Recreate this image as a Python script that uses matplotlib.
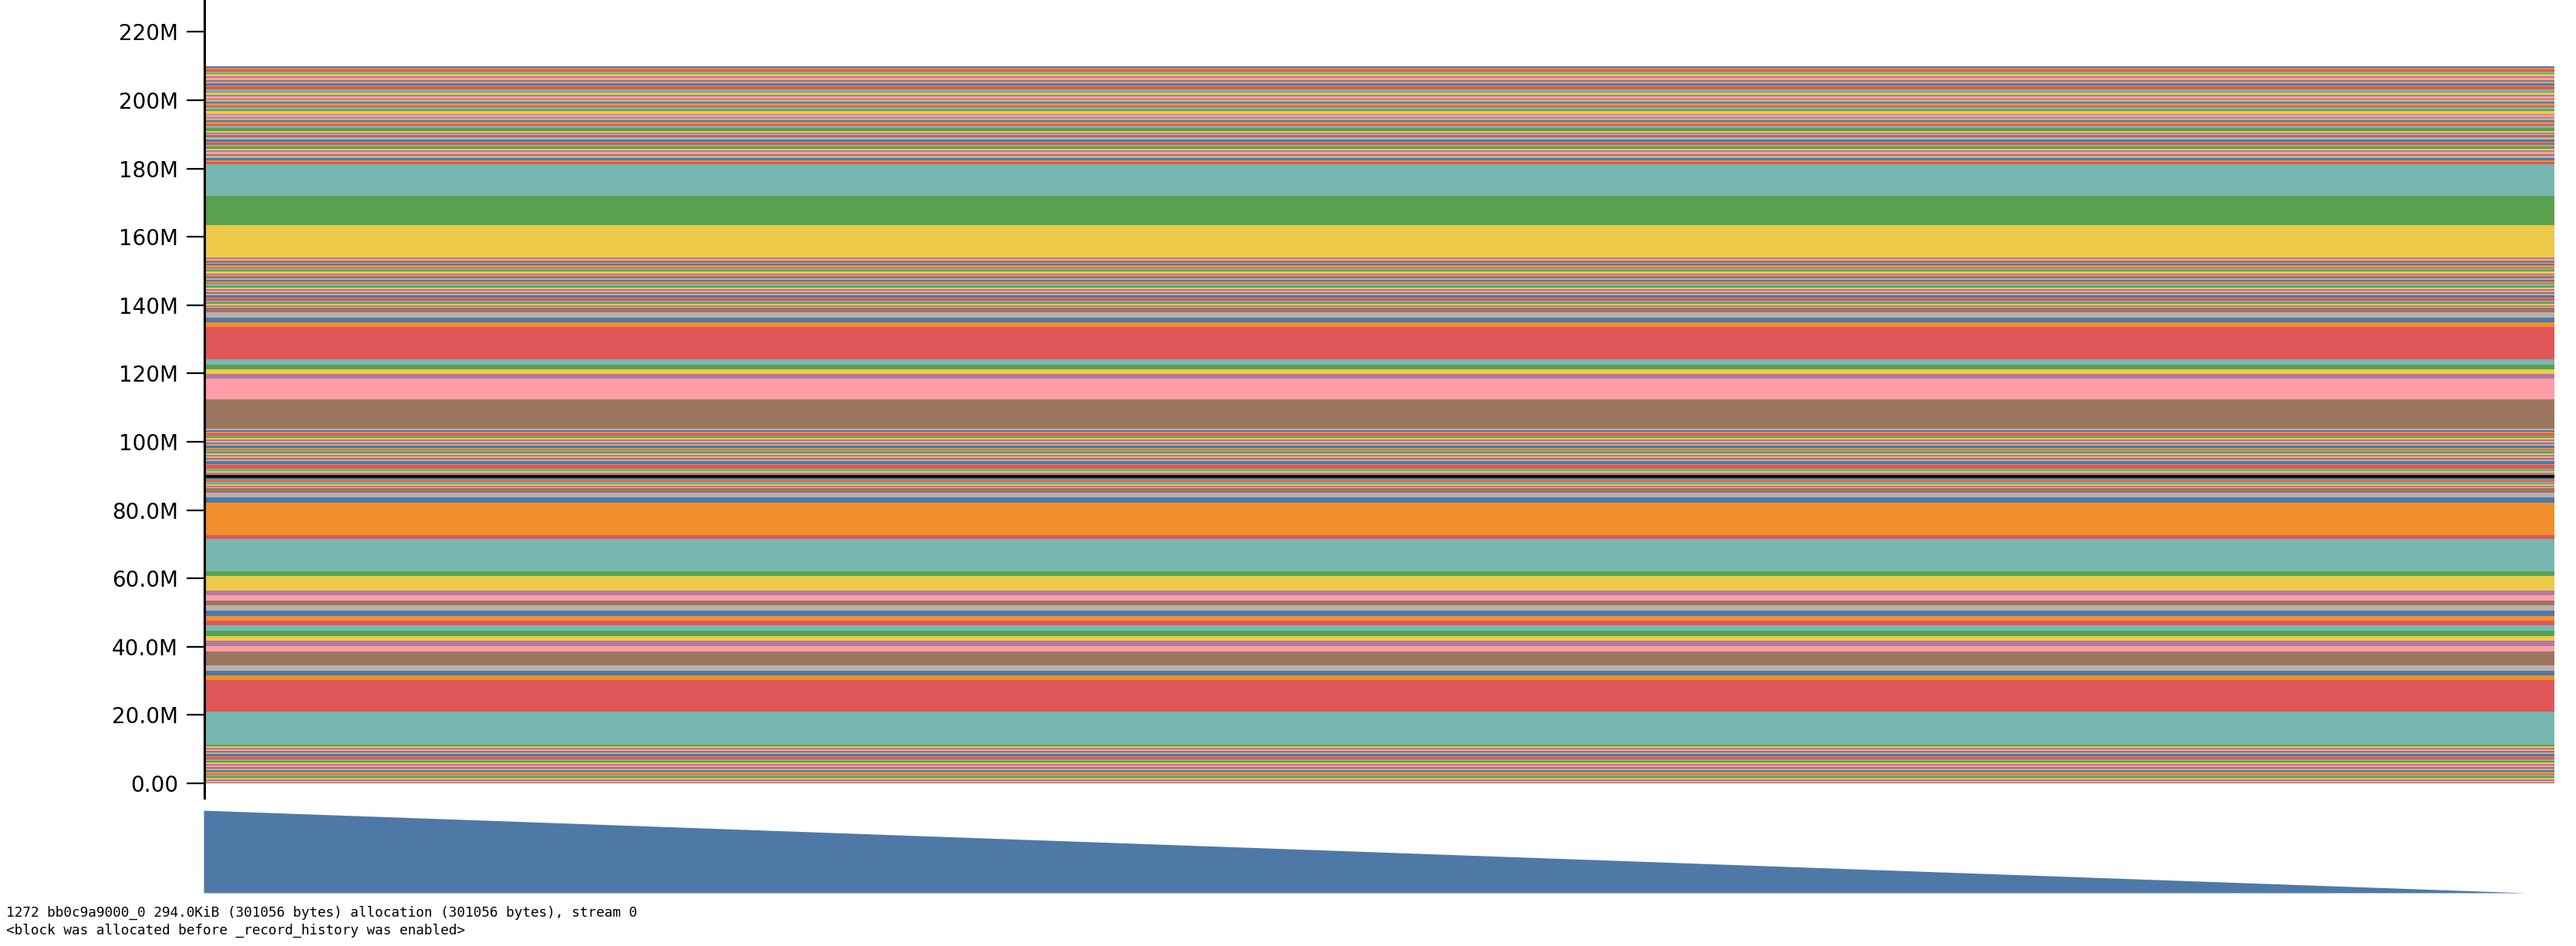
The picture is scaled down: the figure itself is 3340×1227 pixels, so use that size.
import numpy as np
import matplotlib.pyplot as plt

# d3 schemeTableau10, blocks are coloured in order
tableau = ["#4e79a7", "#f28e2c", "#e15759", "#76b7b2", "#59a14f",
           "#edc949", "#af7aa1", "#ff9da7", "#9c755f", "#bab0ab"]

# block sizes in MB, listed from the top of the stack downwards
sizes_a = [0.35, 0.5, 0.7, 0.4, 0.3, 0.6, 0.45, 0.8, 0.35, 0.5,
           0.6, 0.4, 0.9, 0.5, 0.3, 0.7, 0.45, 0.55, 0.4, 0.6,
           0.5, 0.75, 0.35, 0.6, 0.45, 0.9, 0.4, 0.55, 0.3, 0.65,
           0.5, 0.7, 0.4, 0.6, 0.85, 0.45, 0.5, 0.35, 0.7, 0.55,
           0.6, 0.4, 0.5, 0.5, 0.65, 0.45, 0.6, 0.5, 0.6, 0.7,
           0.55, 0.45, 0.65]
big_a = [9.43, 8.44, 9.59]
sizes_b = [0.5, 0.4, 0.6, 0.35, 0.45, 0.55, 0.3, 0.5, 0.4, 0.6,
           0.45, 0.35, 0.5, 0.55, 0.4, 0.5, 0.3, 0.6, 0.45, 0.4,
           0.55, 0.5, 0.35, 0.45, 0.6, 0.4, 0.5, 0.45, 0.55, 0.4,
           0.5, 0.3]
big_b = [1.36, 1.58, 1.36, 1.36, 9.41, 1.45, 1.36, 1.36, 1.36, 6.24, 8.46]
sizes_c = [0.5, 0.5, 0.4, 0.6, 0.35, 0.45, 0.45, 0.5, 0.3, 0.55,
           0.4, 0.6, 0.5, 0.35, 0.45, 0.45, 0.4, 0.5, 0.4, 0.45,
           0.35, 0.9, 0.4, 0.95, 0.45, 0.3, 0.5, 0.55, 0.4, 0.301,
           0.35, 0.4, 0.3, 0.4, 0.35, 0.4, 0.35, 0.4, 0.35]
big_c = [1.36, 1.36, 1.43, 9.59, 1.2, 9.43, 1.27, 4.3, 1.45, 1.49,
         1.45, 1.58, 1.43, 1.52, 1.36, 1.49, 1.52, 1.52, 1.36, 1.65,
         4.0, 1.58, 1.49, 1.22, 9.41, 9.59]
sizes_e = [0.5, 0.4, 0.6, 0.45, 0.35, 0.55, 0.5, 0.4, 0.6, 0.45,
           0.5, 0.35, 0.4, 0.55, 0.45, 0.5, 0.4, 0.6, 0.35, 0.45,
           0.5, 0.4, 0.45, 0.35, 0.3]
selected_in_c = 29  # bb0c9a9000_0, 301056 bytes

ticks = [0, 20, 40, 60, 80, 100, 120, 140, 160, 180, 200, 220]
tick_labels = ["0.00", "20.0M", "40.0M", "60.0M", "80.0M", "100M",
               "120M", "140M", "160M", "180M", "200M", "220M"]

overview_t = [0.0, 1.0]
overview_mem = [209.8, 0.0]

info = ["1272 bb0c9a9000_0 294.0KiB (301056 bytes) allocation (301056 bytes), stream 0",
        "<block was allocated before _record_history was enabled>"]

blocks = np.array(sizes_a + big_a + sizes_b + big_b + sizes_c + big_c + sizes_e)
total = blocks.sum()
bottoms = total - np.cumsum(blocks)
colors = [tableau[i % 10] for i in range(len(blocks))]
selected = len(sizes_a) + len(big_a) + len(sizes_b) + len(big_b) + selected_in_c

W, H = 3340, 1227
fig = plt.figure(figsize=(W / 100, H / 100), dpi=100)

ax = fig.add_axes([265 / W, 1 - 1035 / H, (3312 - 265) / W, 1035 / H])
ax.barh(bottoms, 1.0, height=blocks, left=0, align="edge", color=colors, linewidth=0)
ax.barh(bottoms[selected], 1.0, height=blocks[selected], left=0, align="edge",
        color=colors[selected], edgecolor="black", linewidth=1.3)
ax.set_xlim(0, 1)
ax.set_ylim(-(1035 - 1016) / 4.43, 1016 / 4.43)
for s in ["top", "right", "bottom"]:
    ax.spines[s].set_visible(False)
ax.spines["left"].set_linewidth(2.2)
ax.set_xticks([])
ax.set_yticks(ticks)
ax.set_yticklabels(tick_labels, fontsize=20, family="DejaVu Sans")
ax.tick_params(axis="y", length=16.5, width=1.6, pad=8)

mini = fig.add_axes([264 / W, 1 - 1158 / H, (3275 - 264) / W, (1158 - 1051) / H])
mini.fill_between(overview_t, overview_mem, 0, color="#4e79a7", linewidth=0)
mini.set_xlim(0, 1)
mini.set_ylim(0, max(overview_mem))
mini.axis("off")

fig.text(8 / W, 1 - 1184 / H, info[0], va="center", ha="left",
         family="DejaVu Sans Mono", fontsize=12.8)
fig.text(8 / W, 1 - 1207 / H, info[1], va="center", ha="left",
         family="DejaVu Sans Mono", fontsize=12.8)

fig.savefig("out.png", dpi=100)
